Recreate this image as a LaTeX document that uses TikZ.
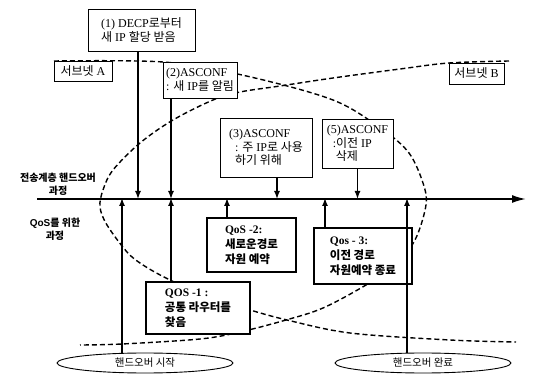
\documentclass[tikz,border=0pt]{standalone}
\usepackage{fontspec}
\setmainfont{Liberation Serif}
\newfontfamily\kr{Noto Sans CJK KR}
\newfontfamily\lsans{Liberation Sans}
\usetikzlibrary{arrows.meta,shapes.geometric}
\begin{document}
\begin{tikzpicture}[x=1pt,y=-1pt,
  box/.style={draw, line width=0.8pt, fill=white, inner sep=1.5pt, font=\fontsize{12}{13.5}\selectfont, align=left},
  qbox/.style={draw, line width=2.2pt, fill=white, inner sep=2pt, font=\fontsize{11.5}{15}\selectfont\bfseries, align=left},
  oval/.style={draw, ellipse, line width=0.9pt, minimum height=20pt, inner sep=0pt, font=\fontsize{10.5}{12}\selectfont},
  arr/.style={line width=1.4pt, -{Latex[length=8pt,width=6pt]}},
  dsh/.style={line width=1.4pt, dash pattern=on 5pt off 3pt},
  lbl/.style={font=\fontsize{10}{13}\selectfont\bfseries, align=center}]
\useasboundingbox (0,0) rectangle (536,374);
% subnet boundaries
\draw[dsh] plot[smooth, tension=0.55] coordinates {(54,61) (163,62) (242,75) (333,100) (383,130) (409,153) (423,183) (426,205) (415,240) (395,265) (366,285) (323,308) (286,320) (240,332) (200,339) (122,344) (80,345)};
\draw[dsh] plot[smooth, tension=0.55] coordinates {(509,61) (449,63) (400,69) (333,78) (280,86) (240,92) (213,100) (173,120) (140,143) (113,170) (103,190) (100,207) (107,225) (127,252) (143,265) (168,279) (210,298) (250,310) (287,320) (350,333) (450,340) (516,342)};
% main time line
\coordinate (L0) at (37,199);
\coordinate (L1) at (526,199);
\draw[line width=1.8pt, -{Latex[length=14pt,width=8pt]}] (L0) -- (L1);
\coordinate (pA) at (122,199);
\coordinate (pB) at (138,199);
\coordinate (pC) at (171,199);
\coordinate (pD) at (227,199);
\coordinate (pE) at (277,199);
\coordinate (pF) at (325,199);
\coordinate (pH) at (407,199);
% boxes
\node[box, minimum width=107pt, minimum height=42pt] (b1) at (141.5,30) {(1) DECP{\kr 로부터}\\{\kr 새} IP {\kr 할당 받음}};
\node[box, minimum width=58pt, minimum height=20pt, align=center] (sa) at (83,71) {{\kr 서브넷} A};
\node[box, minimum width=74pt, minimum height=36pt] (b2) at (200,80) {(2)ASCONF\\: {\kr 새} IP{\kr 를 알림}};
\node[box, minimum width=92pt, minimum height=59pt] (b3) at (266,147.5) {(3)ASCONF\\\ \ : {\kr 주} IP{\kr 로 사용}\\\ \ {\kr 하기 위해}};
\node[box, minimum width=71pt, minimum height=49pt] (b5) at (357.5,143.5) {(5)ASCONF\\\ \ :{\kr 이전} IP\\\ \ \ {\kr 삭제}};
\node[box, minimum width=55pt, minimum height=21pt, align=center] (sb) at (476.5,73.5) {{\kr 서브넷} B};
\node[qbox, minimum width=89pt, minimum height=54pt] (q2) at (251.5,245) {QoS -2:\\{\kr 새로운경로}\\{\kr 자원 예약}};
\node[qbox, minimum width=98pt, minimum height=56pt] (q3) at (363,256) {Qos - 3:\\{\kr 이전 경로}\\{\kr 자원예약 종료}};
\node[qbox, minimum width=104pt, minimum height=52pt] (q1) at (198,308) {QOS -1 :\\{\kr 공통 라우터를}\\{\kr 찾음}};
\node[oval, minimum width=176pt] (e1) at (145,363) {\kr 핸드오버 시작};
\node[oval, minimum width=176pt] (e2) at (423,363) {\kr 핸드오버 완료};
% side labels
\node[lbl] (l1) at (58,184) {{\kr 전송계층 핸드오버}\\{\kr 과정}};
\node[lbl] (l2) at (55,229) {{\lsans QoS}{\kr 를 위한}\\{\kr 과정}};
% arrows
\draw[arr] (b1.south -| pB) -- (pB);
\draw[arr] (b2.south -| pC) -- (pC);
\draw[arr] (b3.south -| pE) -- (pE);
\draw[arr] (b5.south) -- (b5.south |- L0);
\draw[arr] (e1.north -| pA) -- ([yshift=1pt]pA);
\draw[arr] (q1.north -| pC) -- ([yshift=1pt]pC);
\draw[arr] (q2.north -| pD) -- ([yshift=1pt]pD);
\draw[arr] (q3.north -| pF) -- ([yshift=1pt]pF);
\draw[arr] (e2.north -| pH) -- ([yshift=1pt]pH);
\end{tikzpicture}
\end{document}
